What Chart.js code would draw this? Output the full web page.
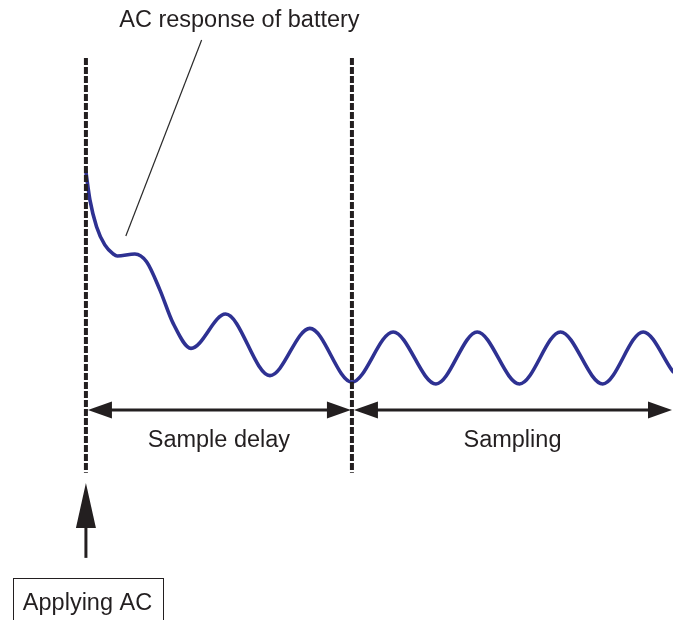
<!DOCTYPE html>
<html>
<head>
<meta charset="utf-8">
<title>AC response of battery</title>
<script src="https://cdn.jsdelivr.net/npm/chart.js@4/dist/chart.umd.min.js"></script>
<style>
  html, body { margin: 0; padding: 0; background: #fff; }
  canvas { display: block; }
</style>
</head>
<body>
<canvas id="acChart" width="673" height="620"></canvas>
<script>
// time axis: 0 = AC applied, 10 = end of sample delay
const respTime = [0, 0.15, 0.40, 0.71, 1.03, 1.18, 1.84, 2.28, 2.78, 3.28, 3.95, 5.25, 6.92,
                  8.42, 10.0, 11.55, 13.16, 14.71, 16.30, 17.84, 19.43, 20.95, 22.07];
const respValue = [7.15, 6.08, 5.05, 4.35, 4.0, 3.92, 4.0, 3.70, 2.62, 1.33, 0.37, 1.69, -0.68,
                   1.14, -0.93, 1.0, -1.0, 1.0, -1.0, 1.0, -1.0, 1.0, -0.53];

const markTime = [0, 10];          // start of AC, start of sampling
const markSpan = [11.54, -4.42];   // top and bottom of the marker lines
const endTime = 22.07;             // right end of the sampling window

const phaseLabels = ['Sample delay', 'Sampling'];
const titleLabel = 'AC response of battery';
const startLabel = 'Applying AC';

const INK = '#231f20';
const FONT = '23.5px "Liberation Sans", Arial, Helvetica, sans-serif';

function arrowHead(ctx, tx, ty, angle, len, half) {
  ctx.save();
  ctx.translate(tx, ty);
  ctx.rotate(angle);
  ctx.beginPath();
  ctx.moveTo(0, 0);
  ctx.lineTo(-len, -half);
  ctx.lineTo(-len, half);
  ctx.closePath();
  ctx.fill();
  ctx.restore();
}

const annotate = {
  id: 'annotate',
  afterDatasetsDraw(chart) {
    const { ctx, scales: { x, y } } = chart;
    ctx.save();
    ctx.fillStyle = INK;
    ctx.strokeStyle = INK;

    // double arrows for the two phases
    const ay = y.getPixelForValue(-2);
    const spans = [[markTime[0], markTime[1]], [markTime[1], endTime]];
    spans.forEach(([a, b], i) => {
      const xa = x.getPixelForValue(a);
      const xb = x.getPixelForValue(b);
      ctx.lineWidth = 3;
      ctx.beginPath();
      ctx.moveTo(xa + 10, ay);
      ctx.lineTo(xb - 10, ay);
      ctx.stroke();
      arrowHead(ctx, xa + 2, ay, Math.PI, 24, 8.5);
      arrowHead(ctx, xb - 1, ay, 0, 24, 8.5);

      ctx.font = FONT;
      ctx.textAlign = 'center';
      ctx.textBaseline = 'alphabetic';
      ctx.fillText(phaseLabels[i], (xa + xb) / 2, y.getPixelForValue(-3.41));
    });

    // upward arrow marking the moment AC is applied
    const ux = x.getPixelForValue(markTime[0]);
    const uTip = y.getPixelForValue(-4.81);
    const uEnd = y.getPixelForValue(-7.69);
    ctx.lineWidth = 3;
    ctx.beginPath();
    ctx.moveTo(ux, uEnd);
    ctx.lineTo(ux, uTip + 30);
    ctx.stroke();
    arrowHead(ctx, ux, uTip, -Math.PI / 2, 45, 10);

    // boxed caption below the arrow
    const bx0 = x.getPixelForValue(-2.76);
    const bx1 = x.getPixelForValue(2.88);
    const by0 = y.getPixelForValue(-8.46);
    ctx.lineWidth = 1;
    ctx.strokeRect(Math.round(bx0) + 0.5, Math.round(by0) + 0.5, Math.round(bx1 - bx0), 60);
    ctx.font = FONT;
    ctx.textAlign = 'center';
    ctx.fillText(startLabel, (bx0 + bx1) / 2, y.getPixelForValue(-9.7));

    // curve caption at the top
    ctx.fillText(titleLabel, x.getPixelForValue(5.77), y.getPixelForValue(12.74));
    ctx.restore();
  }
};

const markerSets = markTime.map(t => ({
  data: [{ x: t, y: markSpan[0] }, { x: t, y: markSpan[1] }],
  borderColor: INK,
  borderWidth: 4,
  borderDash: [7, 2],
  pointRadius: 0,
  tension: 0
}));

new Chart(document.getElementById('acChart'), {
  type: 'line',
  data: {
    datasets: [
      ...markerSets,
      {
        // leader from caption to curve
        data: [{ x: 4.35, y: 12.23 }, { x: 1.5, y: 4.69 }],
        borderColor: '#2a2a2a',
        borderWidth: 1.2,
        pointRadius: 0,
        tension: 0
      },
      {
        label: titleLabel,
        data: respTime.map((t, i) => ({ x: t, y: respValue[i] })),
        borderColor: '#2e3192',
        borderWidth: 3.6,
        pointRadius: 0,
        cubicInterpolationMode: 'monotone',
        borderCapStyle: 'round'
      }
    ]
  },
  options: {
    responsive: false,
    animation: false,
    devicePixelRatio: 1,
    layout: { padding: 0 },
    plugins: { legend: { display: false }, tooltip: { enabled: false } },
    scales: {
      x: { type: 'linear', min: -3.23, max: 22.07, display: false },
      y: { type: 'linear', min: -10.08, max: 13.77, display: false }
    }
  },
  plugins: [annotate]
});
</script>
</body>
</html>
